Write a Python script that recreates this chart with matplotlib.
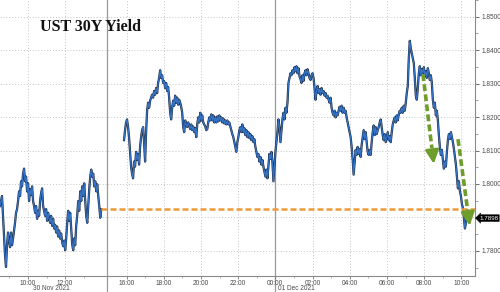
import matplotlib
matplotlib.use('Agg')
import matplotlib.pyplot as plt
import matplotlib.transforms as mtransforms
import numpy as np
import pandas as pd

# UST 30Y yield (one sample every ~3.2 minutes)
s1_start = '2021-11-30 08:30'
s1_vals = [
    1.7934, 1.7949, 1.7964, 1.7905, 1.7846, 1.7787, 1.7752, 1.7817, 1.7855, 1.7831,
    1.7811, 1.7855, 1.7817, 1.7837, 1.7861, 1.7884, 1.7914, 1.7925, 1.7949, 1.7978,
    1.7964, 1.8008, 1.7993, 1.8031, 1.8046, 1.8008, 1.8022, 1.7978, 1.8002, 1.7949,
    1.7984, 1.7967, 1.7993, 1.7949, 1.7934, 1.7914, 1.7934, 1.7896, 1.7920, 1.7905,
    1.7949, 1.7973, 1.7987, 1.7934, 1.7920, 1.7905, 1.7925, 1.7890, 1.7914, 1.7896,
    1.7884, 1.7905, 1.7875, 1.7896, 1.7867, 1.7878, 1.7855, 1.7873, 1.7843, 1.7861,
    1.7837, 1.7852, 1.7826, 1.7814, 1.7831, 1.7802, 1.7837, 1.7884, 1.7920, 1.7890,
    1.7914, 1.7867, 1.7820, 1.7802, 1.7837, 1.7817, 1.7875, 1.7905, 1.7949, 1.7920,
    1.7978, 1.7949, 1.7993, 1.7964, 1.8002, 1.7949, 1.7905, 1.7884, 1.7934, 1.7984,
    1.8022, 1.8043, 1.8022, 1.8031, 1.7993, 1.8008, 1.7978, 1.7999, 1.7964, 1.7934,
    1.7899, 1.7925,
]
s2_start = '2021-11-30 15:52'
s2_vals = [
    1.8131, 1.8161, 1.8184, 1.8193, 1.8170, 1.8140, 1.8096, 1.8052, 1.8031, 1.8017,
    1.8067, 1.8052, 1.8096, 1.8072, 1.8090, 1.8058, 1.8111, 1.8140, 1.8161, 1.8170,
    1.8125, 1.8067, 1.8155, 1.8219, 1.8243, 1.8228, 1.8249, 1.8258, 1.8267, 1.8258,
    1.8278, 1.8267, 1.8287, 1.8272, 1.8302, 1.8317, 1.8340, 1.8317, 1.8325, 1.8302,
    1.8308, 1.8287, 1.8302, 1.8278, 1.8290, 1.8258, 1.8213, 1.8193, 1.8228, 1.8249,
    1.8234, 1.8264, 1.8243, 1.8258, 1.8237, 1.8252, 1.8243, 1.8231, 1.8213, 1.8170,
    1.8155, 1.8190, 1.8178, 1.8170, 1.8184, 1.8175, 1.8164, 1.8178, 1.8161, 1.8172,
    1.8155, 1.8167, 1.8140, 1.8178, 1.8199, 1.8184, 1.8213, 1.8190, 1.8205, 1.8184,
    1.8178, 1.8172, 1.8161, 1.8164, 1.8184, 1.8199, 1.8190, 1.8208, 1.8190, 1.8205,
    1.8184, 1.8199, 1.8184, 1.8202, 1.8187, 1.8205, 1.8190, 1.8199, 1.8184, 1.8196,
    1.8181, 1.8190, 1.8178, 1.8190, 1.8178, 1.8184, 1.8172, 1.8161, 1.8149, 1.8140,
    1.8125, 1.8111, 1.8096, 1.8125, 1.8140, 1.8161, 1.8170, 1.8155, 1.8178, 1.8155,
    1.8167, 1.8146, 1.8161, 1.8140, 1.8155, 1.8137, 1.8149, 1.8131, 1.8143, 1.8125,
    1.8134, 1.8111, 1.8096, 1.8081, 1.8090, 1.8067, 1.8081, 1.8058, 1.8072, 1.8052,
    1.8037, 1.8022, 1.8043, 1.8017, 1.8052, 1.8090, 1.8075, 1.8096, 1.8067, 1.8008,
    1.8052, 1.8096, 1.8125, 1.8155, 1.8193, 1.8170, 1.8125, 1.8161, 1.8193, 1.8213,
    1.8193, 1.8228, 1.8213, 1.8243, 1.8302, 1.8317, 1.8331, 1.8325, 1.8340, 1.8331,
    1.8349, 1.8337, 1.8352, 1.8331, 1.8346, 1.8322, 1.8314, 1.8302, 1.8325, 1.8308,
    1.8331, 1.8340, 1.8325, 1.8343, 1.8331, 1.8317, 1.8311, 1.8325, 1.8331, 1.8317,
    1.8287, 1.8252, 1.8278, 1.8293, 1.8272, 1.8284, 1.8267, 1.8287, 1.8272, 1.8278,
    1.8264, 1.8272, 1.8258, 1.8264, 1.8252, 1.8243, 1.8258, 1.8228, 1.8213, 1.8205,
    1.8219, 1.8199, 1.8213, 1.8205, 1.8219, 1.8231, 1.8219, 1.8234, 1.8213, 1.8228,
    1.8213, 1.8219, 1.8199, 1.8184, 1.8170, 1.8155, 1.8140, 1.8111, 1.8075, 1.8028,
    1.8067, 1.8102, 1.8087, 1.8111, 1.8090, 1.8105, 1.8081, 1.8117, 1.8140, 1.8161,
    1.8134, 1.8155, 1.8125, 1.8096, 1.8087, 1.8102, 1.8087, 1.8125, 1.8155, 1.8175,
    1.8146, 1.8170, 1.8149, 1.8161, 1.8170, 1.8184, 1.8193, 1.8170, 1.8146, 1.8131,
    1.8149, 1.8125, 1.8140, 1.8155, 1.8131, 1.8143, 1.8125, 1.8155, 1.8178, 1.8190,
    1.8199, 1.8184, 1.8205, 1.8190, 1.8208, 1.8219, 1.8213, 1.8228, 1.8213, 1.8234,
    1.8219, 1.8243, 1.8272, 1.8293, 1.8375, 1.8428, 1.8405, 1.8390, 1.8375, 1.8361,
    1.8317, 1.8264, 1.8252, 1.8287, 1.8331, 1.8352, 1.8325, 1.8343, 1.8331, 1.8349,
    1.8322, 1.8337, 1.8317, 1.8346, 1.8331, 1.8311, 1.8325, 1.8302, 1.8252, 1.8228,
    1.8243, 1.8205, 1.8219, 1.8190, 1.8146, 1.8111, 1.8087, 1.8102, 1.8072, 1.8046,
    1.8067, 1.8052, 1.8096, 1.8131, 1.8149, 1.8134, 1.8155, 1.8140, 1.8125, 1.8105,
    1.8081, 1.8058, 1.8022, 1.7987, 1.8008, 1.7978, 1.7964, 1.7940, 1.7928, 1.7899,
    1.7867, 1.7884, 1.7898,
]
sample_step = '194s'

ref_level = 1.7925          # orange dashed level
last_val = s2_vals[-1]

# green arrows: (start time, start yield, end time, end yield)
arrows = [
    ('2021-12-01 07:56', 1.8328, '2021-12-01 08:32', 1.8052),
    ('2021-12-01 09:49', 1.8134, '2021-12-01 10:28', 1.7867),
]

tick_hours = [10, 12, 16, 18, 20, 22, 24, 26, 28, 30, 32, 34]
separators = [14.25, 24]
date_labels = [('30 Nov 2021', '2021-11-30 11:17'), ('01 Dec 2021', '2021-12-01 01:07')]

day0 = pd.Timestamp('2021-11-30')
gap_at, gap_len = 14.25, 0.7   # break in the session is squeezed out of the axis


def hours(ts):
    return np.asarray((pd.to_datetime(ts) - day0) / pd.Timedelta(hours=1), dtype=float)


def to_x(h):
    h = np.asarray(h, dtype=float)
    return np.where(h > gap_at + 1e-9, h - gap_len, h)


t1 = to_x(hours(pd.date_range(s1_start, periods=len(s1_vals), freq=sample_step)))
t2 = to_x(hours(pd.date_range(s2_start, periods=len(s2_vals), freq=sample_step)))

fig = plt.figure(figsize=(5, 2.92), dpi=100)
ax = fig.add_axes([0, 16 / 292, 0.95, 276 / 292])

x_left, x_right = 8.5, 34.03
ax.set_xlim(x_left, x_right)
ax.set_ylim(1.7725, 1.8537)

tick_font = dict(family='Liberation Sans', size=4.7)
grid_kw = dict(color='#c4c4c4', lw=0.7, ls=(0, (1, 2)))

# y axis on the right; the label hidden behind the last-value tag is dropped
yt = np.round(np.arange(1.78, 1.8501, 0.01), 4)
ax.yaxis.tick_right()
ax.set_yticks(yt)
ax.set_yticklabels(['' if abs(v - last_val) < 0.002 else f'{v:.4f}' for v in yt],
                   fontdict=tick_font, color='#4a4a4a')
ax.set_yticks(np.round(np.arange(1.775, 1.855, 0.01), 4), minor=True)
ax.tick_params(axis='y', which='major', length=3, width=0.6, color='#555555', pad=1.5)
ax.tick_params(axis='y', which='minor', length=2, width=0.5, color='#777777')

# x axis
xt = to_x(tick_hours)
ax.set_xticks(xt)
ax.set_xticklabels([f'{int(h) % 24:02d}:00' for h in tick_hours], fontdict=tick_font, color='#4a4a4a')
ax.set_xticks(to_x([h for h in range(9, 35) if h % 2 == 1 and h != 15]), minor=True)
ax.tick_params(axis='x', which='major', length=2, width=0.6, color='#777777', pad=0.8)
ax.tick_params(axis='x', which='minor', length=1.5, width=0.5, color='#999999')

for v in yt:
    ax.axhline(v, **grid_kw, zorder=0)
for v in xt:
    ax.axvline(v, **grid_kw, zorder=0)

for s in ['top', 'left']:
    ax.spines[s].set_visible(False)
for s in ['right', 'bottom']:
    ax.spines[s].set_color('#8a8a8a')
    ax.spines[s].set_linewidth(0.8)

trans = mtransforms.blended_transform_factory(ax.transData, ax.transAxes)
for h in separators:
    ax.plot([to_x(h)] * 2, [-0.06, 1], transform=trans, color='#999999', lw=0.9,
            clip_on=False, zorder=1)

for txt, ts in date_labels:
    ax.text(to_x(hours(ts)), -13 / 276, txt, transform=trans, ha='center', va='center',
            color='#4a4a4a', **tick_font)

# yield line
for t, v in [(t1, s1_vals), (t2, s2_vals)]:
    ax.plot(t, v, color='#1a2a45', lw=1.6, zorder=3)
    ax.plot(t, v, color='#3572c2', lw=0.9, zorder=4)

# orange level line
ax.hlines(ref_level, t1[-1], x_right, colors='#ec9a38', lw=1.8,
          linestyles=(0, (2.4, 1.2)), zorder=5)

# green arrows
green = '#6f9d2c'
for ts0, v0, ts1, v1 in arrows:
    x0, x1 = to_x(hours(ts0)), to_x(hours(ts1))
    xm, vm = x0 + 0.8 * (x1 - x0), v0 + 0.8 * (v1 - v0)
    ax.plot([x0, xm], [v0, vm], color=green, lw=2.6, ls=(0, (1.9, 0.9)),
            solid_capstyle='butt', zorder=6)
    ax.annotate('', xy=(x1, v1), xytext=(xm, vm),
                arrowprops=dict(arrowstyle='-|>,head_length=0.9,head_width=0.45',
                                color=green, lw=2.0, mutation_scale=9), zorder=6)

# last value tag
ax.annotate(f'{last_val:.4f}', xy=(1.0, last_val),
            xycoords=mtransforms.blended_transform_factory(ax.transAxes, ax.transData),
            xytext=(3, 0), textcoords='offset points', ha='left', va='center',
            color='white', annotation_clip=False,
            bbox=dict(boxstyle='larrow,pad=0.15', fc='black', ec='black', lw=0.3),
            family='Liberation Sans', size=4.5)

fig.text(0.08, 1 - 27 / 292, 'UST 30Y Yield', family='Liberation Serif',
         weight='bold', size=11.5, color='#111111', va='center', ha='left')

fig.savefig('out.png', dpi=100)
